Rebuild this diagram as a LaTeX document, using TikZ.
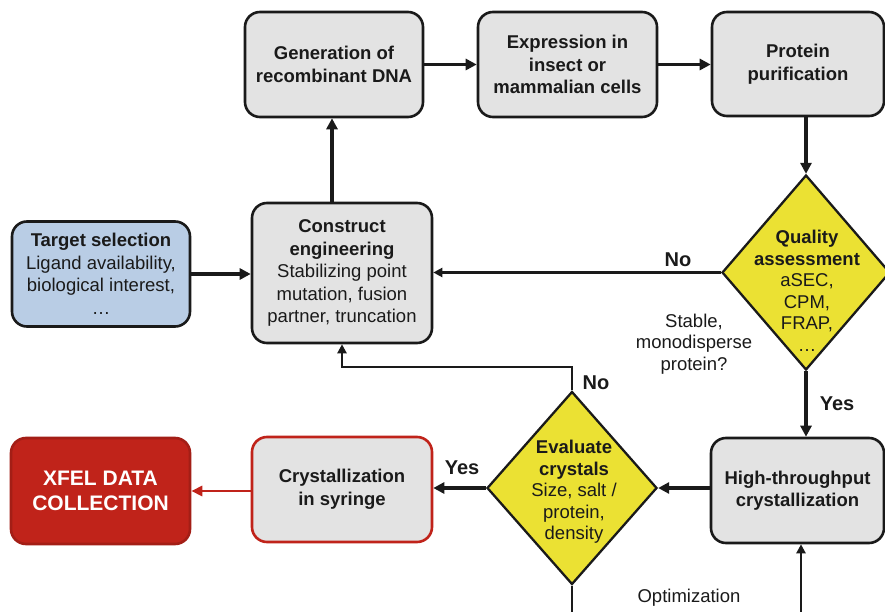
\documentclass[tikz,border=0pt]{standalone}
\usepackage{fontspec}
\setmainfont{Liberation Sans}
\usetikzlibrary{arrows.meta,shapes.geometric}
\definecolor{boxgray}{HTML}{E3E3E3}
\definecolor{dyellow}{HTML}{EBE133}
\definecolor{tblue}{HTML}{B9CDE5}
\definecolor{xred}{HTML}{C0231A}
\definecolor{ink}{HTML}{1A1A1A}
\begin{document}
\begin{tikzpicture}[x=1pt,y=-1pt,
  box/.style={draw=ink, line width=2.6pt, rounded corners=15pt, fill=boxgray, align=center,
    inner sep=0pt, text=ink, font=\fontsize{18.5}{22.5}\selectfont},
  dia/.style={draw=ink, line width=2.3pt, fill=dyellow, shape=diamond, inner sep=0pt},
  arr/.style={draw=ink, line width=3.3pt, -{Triangle[length=11pt,width=11pt]}},
  thinarr/.style={draw=ink, line width=2.3pt, -{Triangle[length=9pt,width=9pt]}},
  thinline/.style={draw=ink, line width=2.3pt},
  lbl/.style={font=\fontsize{20}{22}\selectfont\bfseries, text=ink},
  txt/.style={align=center, text=ink, font=\fontsize{18.5}{21.5}\selectfont}
]
\fill[white] (0,0) rectangle (885,612);
\useasboundingbox (0,0) rectangle (885,612);
\begin{scope}
\clip (0,0) rectangle (885,612);

% top row
\node[box, minimum width=178pt, minimum height=105pt] (gen) at (334,64.5)
  {\bfseries Generation of\\\bfseries recombinant DNA};
\node[box, minimum width=179pt, minimum height=105pt] (expr) at (567.5,64.5)
  {\bfseries Expression in\\\bfseries insect or\\\bfseries mammalian cells};
\node[box, minimum width=172pt, minimum height=104pt] (prot) at (798,64)
  {\bfseries Protein\\\bfseries purification};

% middle row
\node[box, fill=tblue, minimum width=178pt, minimum height=105pt] (target) at (101,274)
  {\bfseries Target selection\\Ligand availability,\\biological interest,\\…};
\node[box, minimum width=180pt, minimum height=140pt] (cons) at (342,273)
  {\bfseries Construct\\\bfseries engineering\\Stabilizing point\\mutation, fusion\\partner, truncation};
\node[dia, minimum width=168pt, minimum height=195pt] (qual) at (806,272.5) {};
\node[txt] (qualtxt) at (807,291)
  {\bfseries Quality\\\bfseries assessment\\aSEC,\\CPM,\\FRAP,\\…};

% bottom row
\node[box, minimum width=173pt, minimum height=105pt] (ht) at (797.5,490.5)
  {\bfseries High-throughput\\\bfseries crystallization};
\node[dia, minimum width=170pt, minimum height=193pt] (eval) at (572,488) {};
\node[txt] (evaltxt) at (574,492)
  {\bfseries Evaluate\\\bfseries crystals\\Size, salt /\\protein,\\density};
\node[box, draw=xred, minimum width=180pt, minimum height=105pt] (syr) at (342,489.5)
  {\bfseries Crystallization\\\bfseries in syringe};
\node[box, draw=xred!85!black, fill=xred, text=white, minimum width=179pt, minimum height=106pt,
  font=\fontsize{21}{25}\selectfont\bfseries] (xfel) at (100.5,491)
  {XFEL DATA\\COLLECTION};

% connectors
\draw[arr] (gen.east) -- (expr.west);
\draw[arr] (expr.east) -- (prot.west |- expr.east);
\draw[arr] ([xshift=-10pt]cons.north) -- ([xshift=-10pt]cons.north |- gen.south);
\draw[arr] (target.east) -- (cons.west |- target.east);
\draw[arr] (qual.north |- prot.south) -- (qual.north);
\draw[thinarr] (qual.west) -- (cons.east |- qual.west);
\draw[arr] (qual.south) -- (qual.south |- ht.north);
\draw[arr] (eval.east -| ht.west) -- (eval.east);
\draw[arr] (eval.west) -- (eval.west -| syr.east);
\draw[draw=xred, line width=2.8pt, -{Triangle[length=11pt,width=10pt]}] (syr.west |- xfel.east) -- (xfel.east);
\coordinate (loopA) at (572,367);
\coordinate (loopB) at (342,367);
\draw[thinarr] (eval.north) -- (loopA) -- (loopB) -- (cons.south);
\coordinate (evalend) at (572,620);
\draw[thinline] (eval.south) -- (evalend);
\coordinate (optstart) at (801,620);
\draw[thinarr] (optstart) -- (optstart |- ht.south);

% labels
\node[lbl] (no1) at (678,260) {No};
\node[lbl] (yes1) at (837,404) {Yes};
\node[lbl] (no2) at (596,383) {No};
\node[lbl] (yes2) at (462,468) {Yes};
\node[txt] (stable) at (694,344) {Stable,\\monodisperse\\protein?};
\node[txt] (optim) at (689,598) {Optimization};
\end{scope}
\end{tikzpicture}
\end{document}
